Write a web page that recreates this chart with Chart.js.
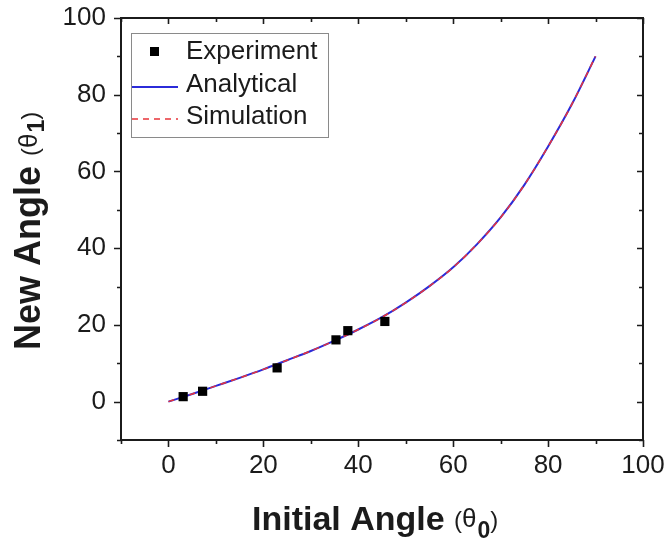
<!DOCTYPE html>
<html>
<head>
<meta charset="utf-8">
<title>New Angle vs Initial Angle</title>
<script src="https://cdn.jsdelivr.net/npm/chart.js@4.4.1/dist/chart.umd.min.js"></script>
<style>
  html, body { margin: 0; padding: 0; background: #fff; }
  #chart { display: block; }
</style>
</head>
<body>
<canvas id="chart" width="668" height="542"></canvas>
<script>
// --- data ---
const expAngle0 = [3.1, 7.2, 22.9, 35.3, 37.8, 45.6];
const expAngle1 = [1.3, 2.7, 8.8, 16.1, 18.5, 20.9];

const curveAngle0 = [0, 5, 10, 15, 20, 25, 30, 35, 40, 45, 50, 55, 60, 65, 70, 75, 80, 85, 90];
const analyticalAngle1 = [0, 2.0, 4.1, 6.2, 8.4, 10.8, 13.2, 15.9, 18.8, 22.0, 25.8, 30.1, 35.0, 41.0, 48.0, 56.5, 66.5, 77.5, 90];
const simulationAngle1 = [0, 2.0, 4.1, 6.2, 8.4, 10.8, 13.2, 15.9, 18.8, 22.0, 25.8, 30.1, 35.0, 41.0, 48.0, 56.5, 66.5, 77.5, 90];

const xTickLabels = [0, 20, 40, 60, 80, 100];
const yTickLabels = [0, 20, 40, 60, 80, 100];
const minorStep = 10;

const legendLabels = ['Experiment', 'Analytical', 'Simulation'];

const INK = '#1b1b1b';
const BLUE = '#2b2bd9';
const RED = '#e8343a';
const SANS = '"Liberation Sans", Arial, sans-serif';

const toPoints = (xs, ys) => xs.map((x, i) => ({ x: x, y: ys[i] }));

// frame, mirrored ticks, legend box and the mixed-size axis titles
const decorations = {
  id: 'decorations',
  afterDraw(chart) {
    const ctx = chart.ctx;
    const { left, right, top, bottom } = chart.chartArea;
    const xs = chart.scales.x, ys = chart.scales.y;

    ctx.save();
    ctx.strokeStyle = INK;
    ctx.lineWidth = 2;
    ctx.strokeRect(left, top, right - left, bottom - top);

    ctx.lineWidth = 1.6;
    ctx.beginPath();
    for (let v = -10; v <= 100; v += minorStep) {
      const major = v % 20 === 0;
      const out = major ? 7 : 4;
      const inn = major ? 6 : 4;
      const px = Math.round(xs.getPixelForValue(v)) + 0.5;
      const py = Math.round(ys.getPixelForValue(v)) + 0.5;
      // bottom / left point outward
      ctx.moveTo(px, bottom); ctx.lineTo(px, bottom + out);
      ctx.moveTo(left, py); ctx.lineTo(left - out, py);
      // top / right point inward
      ctx.moveTo(px, top); ctx.lineTo(px, top + inn);
      ctx.moveTo(right, py); ctx.lineTo(right - inn, py);
    }
    ctx.stroke();

    // legend
    const lx = left + 10, ly = top + 15, lw = 197, lh = 104;
    ctx.lineWidth = 1;
    ctx.strokeStyle = '#8a8a8a';
    ctx.strokeRect(lx + 0.5, ly + 0.5, lw, lh);

    ctx.fillStyle = '#000';
    ctx.fillRect(150, 47, 9, 9);

    ctx.lineWidth = 2;
    ctx.strokeStyle = BLUE;
    ctx.beginPath(); ctx.moveTo(lx + 1, 87); ctx.lineTo(178, 87); ctx.stroke();

    ctx.lineWidth = 1.6;
    ctx.strokeStyle = RED;
    ctx.setLineDash([6, 5]);
    ctx.beginPath(); ctx.moveTo(lx + 1, 119); ctx.lineTo(178, 119); ctx.stroke();
    ctx.setLineDash([]);

    ctx.fillStyle = INK;
    ctx.font = '26px ' + SANS;
    ctx.textAlign = 'left';
    ctx.textBaseline = 'alphabetic';
    ctx.fillText(legendLabels[0], 186, 59);
    ctx.fillText(legendLabels[1], 186, 92);
    ctx.fillText(legendLabels[2], 186, 124);

    // x title: Initial Angle (θ0)
    let x = 252;
    const xb = 530;
    ctx.font = 'bold 34px ' + SANS;
    ctx.fillText('Initial Angle', x, xb);
    x += ctx.measureText('Initial Angle ').width;
    ctx.font = '24px ' + SANS;
    ctx.fillText('(', x, xb - 2);
    x += ctx.measureText('(').width;
    ctx.font = '26px ' + SANS;
    ctx.fillText('θ', x, xb - 3);
    x += ctx.measureText('θ').width + 1;
    ctx.font = 'bold 23px ' + SANS;
    ctx.fillText('0', x, xb + 8);
    x += ctx.measureText('0').width;
    ctx.font = '24px ' + SANS;
    ctx.fillText(')', x, xb - 2);

    // y title: New Angle (θ1), rotated
    ctx.translate(40, 350);
    ctx.rotate(-Math.PI / 2);
    let t = 0;
    ctx.font = 'bold 36px ' + SANS;
    ctx.fillText('New Angle', t, 0);
    t += ctx.measureText('New Angle ').width;
    ctx.font = '24px ' + SANS;
    ctx.fillText('(', t, -2);
    t += ctx.measureText('(').width;
    ctx.font = '26px ' + SANS;
    ctx.fillText('θ', t, -3);
    t += ctx.measureText('θ').width + 1;
    ctx.font = 'bold 23px ' + SANS;
    ctx.fillText('1', t, 4);
    t += ctx.measureText('1').width;
    ctx.font = '24px ' + SANS;
    ctx.fillText(')', t, -2);

    ctx.restore();
  }
};

new Chart(document.getElementById('chart'), {
  type: 'scatter',
  data: {
    datasets: [
      {
        label: legendLabels[1],
        data: toPoints(curveAngle0, analyticalAngle1),
        showLine: true,
        borderColor: BLUE,
        borderWidth: 2,
        pointRadius: 0,
        cubicInterpolationMode: 'monotone',
        order: 3
      },
      {
        label: legendLabels[2],
        data: toPoints(curveAngle0, simulationAngle1),
        showLine: true,
        borderColor: RED,
        borderWidth: 1.5,
        borderDash: [6, 5],
        pointRadius: 0,
        cubicInterpolationMode: 'monotone',
        order: 2
      },
      {
        label: legendLabels[0],
        data: toPoints(expAngle0, expAngle1),
        showLine: false,
        pointStyle: 'rect',
        pointRadius: 6.5,
        backgroundColor: '#000',
        borderColor: '#000',
        borderWidth: 0,
        order: 1
      }
    ]
  },
  options: {
    responsive: false,
    animation: false,
    devicePixelRatio: 1,
    layout: { padding: { top: 18, right: 25, left: 0, bottom: 0 } },
    plugins: {
      legend: { display: false },
      tooltip: { enabled: false }
    },
    scales: {
      x: {
        type: 'linear',
        min: -10,
        max: 100,
        afterBuildTicks: (s) => { s.ticks = xTickLabels.map(v => ({ value: v })); },
        afterFit: (s) => { s.height = 102; s.paddingLeft = 0; s.paddingRight = 0; },
        grid: { display: false, drawTicks: false },
        border: { display: false },
        ticks: {
          padding: 10,
          color: INK,
          font: { family: SANS, size: 26 },
          maxRotation: 0
        }
      },
      y: {
        type: 'linear',
        min: -10,
        max: 100,
        afterBuildTicks: (s) => { s.ticks = yTickLabels.map(v => ({ value: v })); },
        afterFit: (s) => { s.width = 121; s.paddingTop = 0; s.paddingBottom = 0; },
        grid: { display: false, drawTicks: false },
        border: { display: false },
        ticks: {
          padding: 15,
          color: INK,
          font: { family: SANS, size: 26 }
        }
      }
    }
  },
  plugins: [decorations]
});
</script>
</body>
</html>
